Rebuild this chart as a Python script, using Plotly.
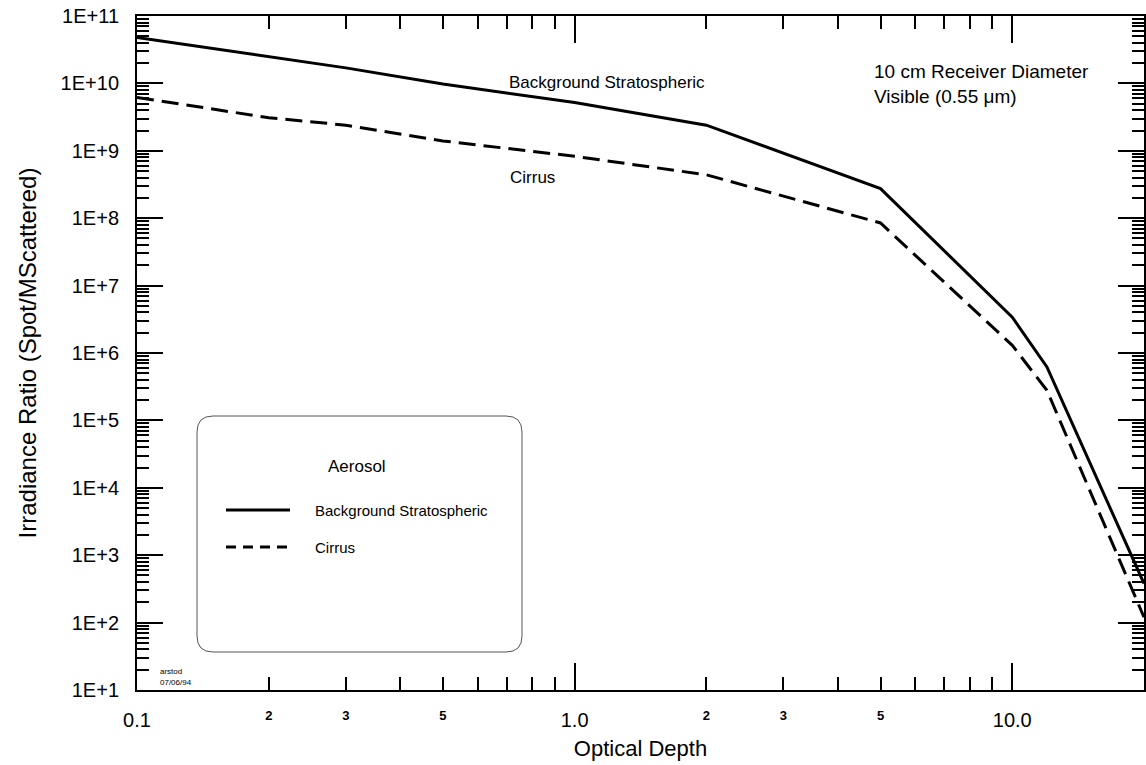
import plotly.graph_objects as go

# ---- data ----
optical_depth = [0.1, 0.2, 0.3, 0.5, 1.0, 2.0, 5.0, 10.0, 12.0, 20.0]
background_strat = [4.8e10, 2.5e10, 1.7e10, 9.8e9, 5.2e9, 2.4e9, 2.75e8, 3.4e6, 6.2e5, 3.8e2]
cirrus = [6.2e9, 3.1e9, 2.4e9, 1.4e9, 8.3e8, 4.4e8, 8.5e7, 1.3e6, 2.8e5, 1.2e2]

x_major_vals = [0.1, 1.0, 10.0]
x_major_text = ["0.1", "1.0", "10.0"]
x_minor_label_vals = [0.2, 0.3, 0.5, 2, 3, 5]
x_minor_label_text = ["2", "3", "5", "2", "3", "5"]
y_major_vals = [10 ** k for k in range(1, 12)]
y_major_text = ["1E+%d" % k for k in range(1, 12)]

FONT = "Liberation Sans, Arial, sans-serif"
W, H = 1146, 765
L, R, T, B = 137, 2, 16, 75
PW, PH = W - L - R, H - T - B


def px(xp):
    return (xp - L) / PW


def py(yp):
    return (H - B - yp) / PH


x_minor_ticks = [m * 10 ** e for e in (-1, 0) for m in range(2, 10)]
y_minor_ticks = [m * 10 ** e for e in range(1, 11) for m in range(2, 10)]

fig = go.Figure()
fig.add_trace(go.Scatter(x=optical_depth, y=background_strat, mode="lines",
                         name="Background Stratospheric",
                         line=dict(color="black", width=3), showlegend=False))
fig.add_trace(go.Scatter(x=optical_depth, y=cirrus, mode="lines", name="Cirrus",
                         line=dict(color="black", width=3, dash="17px,8px"),
                         showlegend=False))
# invisible trace to carry the secondary (minor-label) x axis
fig.add_trace(go.Scatter(x=optical_depth, y=cirrus, xaxis="x2", mode="lines",
                         line=dict(width=0), hoverinfo="skip", showlegend=False,
                         opacity=0))

xr = [-1, 1.30103]
fig.update_layout(
    width=W, height=H,
    margin=dict(l=L, r=R, t=T, b=B, autoexpand=False),
    paper_bgcolor="white", plot_bgcolor="white",
    font=dict(family=FONT, color="black"),
    xaxis=dict(type="log", range=xr, tickmode="array", tickvals=x_major_vals,
               ticktext=x_major_text, ticks="inside", ticklen=27, tickwidth=2,
               tickcolor="black", showline=True, linecolor="black", linewidth=2,
               mirror="ticks", showgrid=False, zeroline=False, automargin=False,
               tickfont=dict(size=20, family=FONT), ticklabelstandoff=11,
               minor=dict(tickmode="array", tickvals=x_minor_ticks, ticks="inside",
                          ticklen=13, tickwidth=2, tickcolor="black", showgrid=False),
               title=dict(text="Optical Depth", font=dict(size=22, family=FONT),
                          standoff=11)),
    xaxis2=dict(type="log", range=xr, overlaying="x", anchor="y", side="bottom",
                tickmode="array", tickvals=x_minor_label_vals,
                ticktext=x_minor_label_text, ticks="", showline=False,
                showgrid=False, zeroline=False, ticklabelstandoff=16, automargin=False,
                tickfont=dict(size=13, family=FONT, weight="bold")),
    yaxis=dict(type="log", range=[1, 11], tickmode="array", tickvals=y_major_vals,
               ticktext=y_major_text, ticks="inside", ticklen=26, tickwidth=2,
               tickcolor="black", showline=True, linecolor="black", linewidth=2,
               mirror="ticks", showgrid=False, zeroline=False, automargin=False,
               tickfont=dict(size=20, family=FONT), ticklabelstandoff=12,
               minor=dict(tickmode="array", tickvals=y_minor_ticks, ticks="inside",
                          ticklen=12, tickwidth=1.5, tickcolor="black", showgrid=False),
               title=dict(text="Irradiance Ratio (Spot/MScattered)",
                          font=dict(size=24, family=FONT), standoff=17)),
)

# rounded legend box
x0, x1, y0, y1 = px(197), px(522), py(652), py(416)
rx, ry = 16 / PW, 16 / PH
path = (f"M {x0+rx},{y1} L {x1-rx},{y1} Q {x1},{y1} {x1},{y1-ry} "
        f"L {x1},{y0+ry} Q {x1},{y0} {x1-rx},{y0} L {x0+rx},{y0} "
        f"Q {x0},{y0} {x0},{y0+ry} L {x0},{y1-ry} Q {x0},{y1} {x0+rx},{y1} Z")
fig.add_shape(type="path", path=path, xref="paper", yref="paper",
              line=dict(color="#555", width=1))
fig.add_shape(type="line", xref="paper", yref="paper", x0=px(226), x1=px(290),
              y0=py(510), y1=py(510), line=dict(color="black", width=3))
fig.add_shape(type="line", xref="paper", yref="paper", x0=px(226), x1=px(290),
              y0=py(547), y1=py(547), line=dict(color="black", width=3, dash="10px,7px"))


def note(text, xp, yp, size, xanchor="left"):
    fig.add_annotation(text=text, xref="paper", yref="paper", x=px(xp), y=py(yp),
                       xanchor=xanchor, yanchor="middle", showarrow=False,
                       font=dict(size=size, family=FONT, color="black"))


note("Aerosol", 357, 467, 17, "center")
note("Background Stratospheric", 313, 510, 15)
note("Cirrus", 313, 547, 15)
note("Background Stratospheric", 507, 82, 17)
note("Cirrus", 508, 178, 17)
note("10 cm Receiver Diameter", 872, 72, 19)
note("Visible (0.55 μm)", 872, 97, 19)
note("arstod", 158, 671, 8)
note("07/06/94", 158, 682, 8)

fig.write_html("out.html", config={"displayModeBar": False},
               post_script="document.body.style.margin='0';"
                           "document.body.style.overflow='hidden';")
